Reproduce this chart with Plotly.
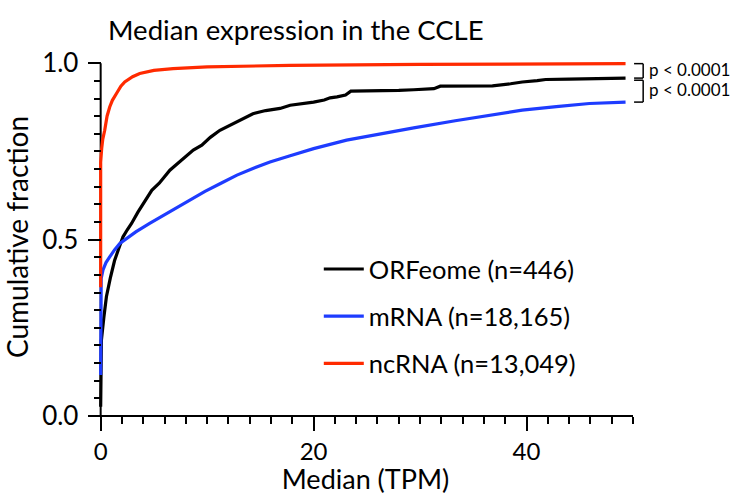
import plotly.graph_objects as go

# ---- data ----
orf_x = [0, 0, 0.07, 0.3, 0.54, 0.9, 1.3, 1.7, 2.1, 2.5, 2.9, 3.5, 4.0, 4.8, 5.5, 6.5, 7.2, 8.0, 8.7,
         9.5, 10.3, 11.2, 12.0, 13.0, 14.3, 15.5, 16.85, 17.8, 19.0, 20.0, 21.0, 21.55, 22.2, 23.0, 23.5,
         25.0, 26.3, 28.0, 29.4, 31.3, 31.9, 33.3, 35.0, 36.8, 38.5, 39.6, 41.0, 41.8, 44.0, 47.1, 49.3]
orf_y = [0.026, 0.15, 0.215, 0.28, 0.338, 0.39, 0.44, 0.475, 0.508, 0.528, 0.546, 0.578, 0.603, 0.64,
         0.66, 0.697, 0.715, 0.735, 0.754, 0.768, 0.79, 0.81, 0.822, 0.838, 0.857, 0.866, 0.872, 0.881,
         0.885, 0.89, 0.896, 0.902, 0.905, 0.91, 0.921, 0.921, 0.921, 0.923, 0.925, 0.928, 0.935, 0.935,
         0.935, 0.936, 0.942, 0.947, 0.951, 0.954, 0.955, 0.957, 0.958]

mrna_x = [0, 0, 0.05, 0.22, 0.5, 0.85, 1.3, 1.8, 2.4, 3.3, 4.6, 5.5, 6.8, 8.2, 9.8, 11.3, 12.8, 14.3,
          15.9, 17.8, 20.0, 23.1, 26.3, 29.4, 33.3, 36.5, 39.6, 42.8, 45.9, 49.3]
mrna_y = [0.116, 0.363, 0.39, 0.414, 0.435, 0.451, 0.471, 0.489, 0.503, 0.522, 0.546, 0.562, 0.584,
          0.61, 0.637, 0.66, 0.683, 0.702, 0.72, 0.738, 0.758, 0.782, 0.80, 0.817, 0.837, 0.853, 0.867,
          0.877, 0.886, 0.89]

nc_x = [0, 0, 0.1, 0.2, 0.38, 0.6, 0.85, 1.1, 1.5, 1.9, 2.26, 2.6, 3.0, 3.67, 5.0, 6.8, 10.0, 17.8, 30.0, 49.3]
nc_y = [0.365, 0.72, 0.76, 0.785, 0.81, 0.85, 0.876, 0.895, 0.915, 0.935, 0.947, 0.955, 0.962, 0.971,
        0.98, 0.985, 0.99, 0.994, 0.997, 0.999]

series_names = ["ORFeome (n=446)", "mRNA (n=18,165)", "ncRNA (n=13,049)"]
series_colors = ["#000000", "#1e3cff", "#ff2a00"]
p_labels = ["p < 0.0001", "p < 0.0001"]
x_ticks = [0, 20, 40]
y_ticks = [0.0, 0.5, 1.0]

FONT = "Lato"
X_RANGE = [-0.25, 50]
Y_RANGE = [0, 1.015]
x0_paper = (0 - X_RANGE[0]) / (X_RANGE[1] - X_RANGE[0])
y1_paper = (1 - Y_RANGE[0]) / (Y_RANGE[1] - Y_RANGE[0])

fig = go.Figure()
for xs, ys, name, col in zip([orf_x, mrna_x, nc_x], [orf_y, mrna_y, nc_y], series_names, series_colors):
    fig.add_trace(go.Scatter(x=xs, y=ys, mode="lines", name=name, legendgroup=name,
                             line=dict(color=col, width=3.2)))

# axis lines: y from 0 to 1, x from 0 to 50
fig.add_shape(type="line", xref="paper", yref="paper", x0=x0_paper, x1=x0_paper, y0=0, y1=y1_paper,
              line=dict(color="black", width=2), layer="below")
fig.add_shape(type="line", xref="paper", yref="paper", x0=x0_paper, x1=1, y0=0, y1=0,
              line=dict(color="black", width=2), layer="below")

# p-value brackets
brackets = [(orf_y[-1], nc_y[-1]), (mrna_y[-1], orf_y[-1] - 0.006)]
for (lo, hi), lab in zip(brackets, p_labels):
    for path in [(1.002, hi, 1.019, hi), (1.019, hi, 1.019, lo), (1.002, lo, 1.019, lo)]:
        fig.add_shape(type="line", xref="paper", yref="y", x0=path[0], y0=path[1], x1=path[2], y1=path[3],
                      line=dict(color="black", width=1.5))
    fig.add_annotation(xref="paper", yref="y", x=1.027, y=(lo + hi) / 2 + 0.004, text=lab, showarrow=False,
                       xanchor="left", yanchor="middle", font=dict(family=FONT, size=17, color="black"))

fig.update_layout(
    width=733, height=495,
    margin=dict(l=98.4, r=100, t=58, b=79, autoexpand=False),
    plot_bgcolor="white", paper_bgcolor="white",
    font=dict(family=FONT, color="black"),
    title=dict(text="Median expression in the CCLE", xref="container", yref="container",
               x=108 / 733, y=1 - 30 / 495, xanchor="left", yanchor="middle",
               font=dict(family=FONT, size=27.5, color="black")),
    showlegend=True,
    legend=dict(x=0.4127, y=0.475, xanchor="left", yanchor="top", bgcolor="rgba(0,0,0,0)",
                font=dict(family=FONT, size=25.5, color="black"), tracegroupgap=11,
                itemwidth=40, traceorder="grouped"),
    xaxis=dict(range=X_RANGE, tickvals=x_ticks, ticktext=[str(v) for v in x_ticks], automargin=False,
               showgrid=False, zeroline=False, showline=False,
               ticks="outside", ticklen=14, tickwidth=1.5, tickcolor="black",
               tickfont=dict(family=FONT, size=24, color="black"),
               minor=dict(dtick=2, tick0=0, ticks="outside", ticklen=7, tickwidth=1.5, tickcolor="black", showgrid=False),
               title=dict(text="Median (TPM)", font=dict(family=FONT, size=27, color="black"), standoff=12)),
    yaxis=dict(range=Y_RANGE, anchor="free", position=x0_paper, automargin=False,
               tickvals=y_ticks, ticktext=["%.1f" % v for v in y_ticks],
               showgrid=False, zeroline=False, showline=False,
               ticks="outside", ticklen=13, tickwidth=1.5, tickcolor="black",
               tickfont=dict(family=FONT, size=26, color="black"), ticklabelstandoff=4,
               minor=dict(dtick=0.05, tick0=0, ticks="outside", ticklen=7, tickwidth=1.5, tickcolor="black", showgrid=False),
               title=dict(text="Cumulative fraction", font=dict(family=FONT, size=28, color="black"), standoff=6)),
)

fig.write_html("out.html")
